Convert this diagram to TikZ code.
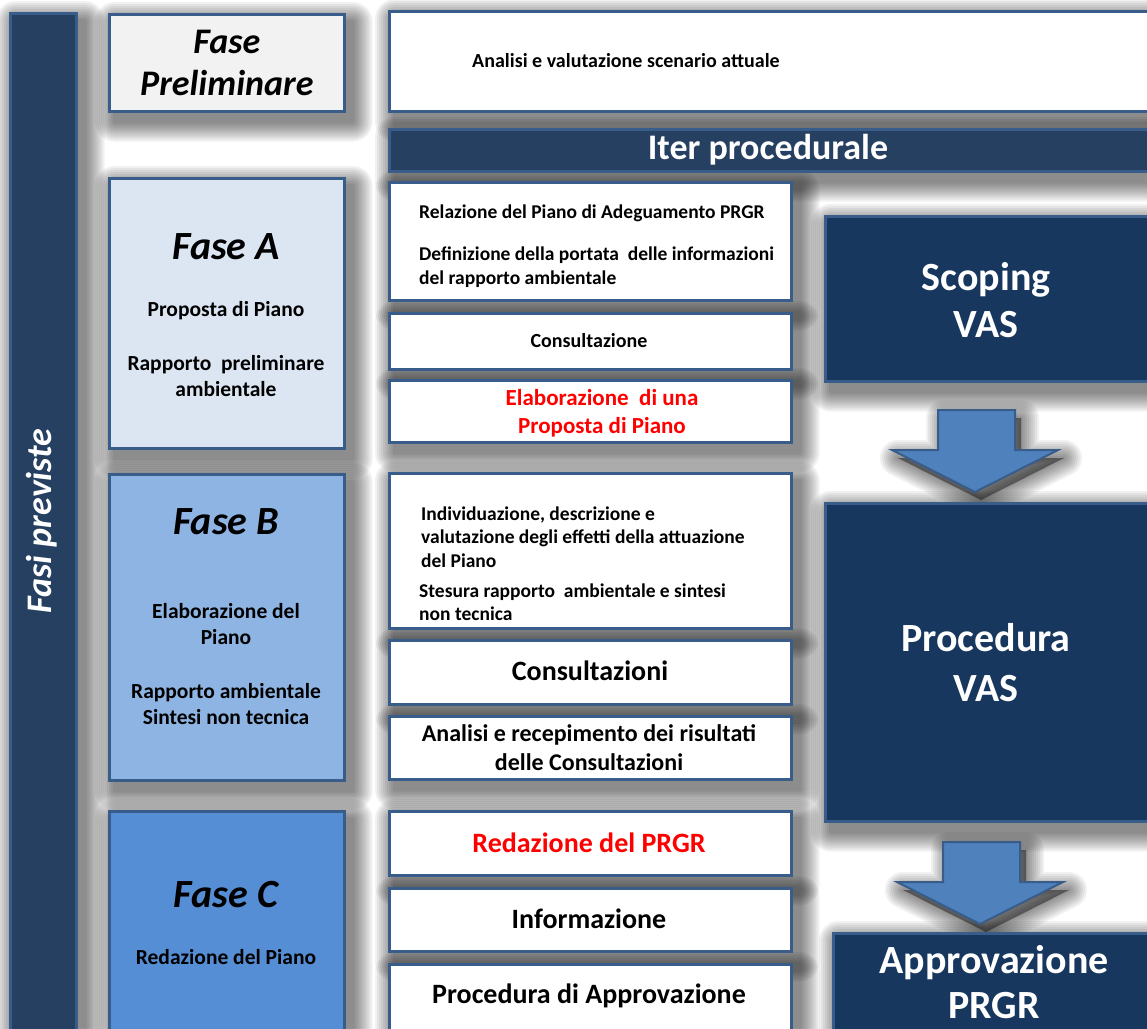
\documentclass[tikz,border=0pt]{standalone}
\usepackage{fontspec}
\setmainfont{Carlito}
\pgfdeclarelayer{shadowlayer}
\pgfsetlayers{shadowlayer,main}
\definecolor{navy}{HTML}{254061}
\definecolor{deepnavy}{HTML}{17375E}
\definecolor{bordc}{HTML}{385D8A}
\definecolor{prelimfill}{HTML}{F2F2F2}
\definecolor{afill}{HTML}{DCE6F2}
\definecolor{bfill}{HTML}{8EB4E3}
\definecolor{cfill}{HTML}{558ED5}
\definecolor{arrowfill}{HTML}{4F81BD}
\definecolor{redtxt}{HTML}{FF0000}
\tikzset{
  box/.style={draw=bordc, line width=2.6pt, anchor=north west, inner sep=0pt},
  whitebox/.style={box, fill=white},
  darkbox/.style={box, fill=deepnavy},
  midtxt/.style={font=\bfseries\fontsize{19.5}{24}\selectfont, align=left, anchor=west, inner sep=0pt},
  bigmid/.style={font=\bfseries\fontsize{28}{30}\selectfont, align=center, anchor=center, inner sep=0pt},
  phasetitle/.style={font=\bfseries\itshape\fontsize{40}{42}\selectfont, anchor=center, inner sep=0pt},
  phasetxt/.style={font=\bfseries\fontsize{21.5}{26}\selectfont, align=center, anchor=center, inner sep=0pt},
  righttxt/.style={text=white, align=center, inner sep=0pt},
  arrowshape/.style={fill=arrowfill, draw=bordc, line width=2pt, line join=miter},
  shadowstep/.style={fill=black, opacity=0.055},
}
\def\arrowone{(938,410) -- (1015,410) -- (1015,450) -- (1058,450) -- (975,492) -- (892,450) -- (938,450) -- cycle}
\def\arrowtwo{(943,842) -- (1020,842) -- (1020,882) -- (1063,882) -- (980,924) -- (897,882) -- (943,882) -- cycle}
\begin{document}
\begin{tikzpicture}[x=1pt,y=-1pt]
\useasboundingbox (0,0) rectangle (1147,1028);
\begin{scope}
\clip (0,0) rectangle (1147,1028);
% left bar
\node[box, fill=navy, minimum width=66, minimum height=1030] (bar) at (9,12) {};
\node[rotate=90, text=white, inner sep=0pt, font=\bfseries\itshape\fontsize{36}{38}\selectfont] (barlbl) at (42,521) {Fasi previste};
% top row
\node[box, fill=prelimfill, minimum width=235, minimum height=97, font=\bfseries\itshape\fontsize{36}{42}\selectfont, align=center] (prelim) at (108,13) {Fase\\Preliminare};
\node[whitebox, minimum width=770, minimum height=100] (analisi) at (388,10) {};
\node[font=\bfseries\fontsize{20}{22}\selectfont, anchor=west, inner sep=0pt] (analisitxt) at (472,61) {Analisi e valutazione scenario attuale};
\node[box, fill=navy, minimum width=770, minimum height=42] (iter) at (388,128) {};
\node[text=white, font=\bfseries\fontsize{36}{38}\selectfont, inner sep=0pt] (itertxt) at (768,150) {Iter procedurale};
% phase boxes
\node[box, fill=afill, minimum width=235, minimum height=270] (faseA) at (108,177) {};
\node[phasetitle] (faseAt) at (226,247) {Fase A};
\node[phasetxt] (faseA1) at (226,311) {Proposta di Piano};
\node[phasetxt] (faseA2) at (226,376) {Rapporto\ \ preliminare\\ambientale};
\node[box, fill=bfill, minimum width=235, minimum height=306] (faseB) at (108,473) {};
\node[phasetitle] (faseBt) at (226,522) {Fase B};
\node[phasetxt] (faseB1) at (226,624) {Elaborazione del\\Piano};
\node[phasetxt] (faseB2) at (226,704) {Rapporto ambientale\\Sintesi non tecnica};
\node[box, fill=cfill, minimum width=235, minimum height=230] (faseC) at (108,810) {};
\node[phasetitle] (faseCt) at (226,895) {Fase C};
\node[phasetxt] (faseC1) at (226,957) {Redazione del Piano};
% middle column
\node[whitebox, minimum width=402, minimum height=118] (m1) at (388,181) {};
\node[midtxt] (m1a) at (419,213) {Relazione del Piano di Adeguamento PRGR};
\node[midtxt] (m1b) at (419,267) {Definizione della portata\ \ delle informazioni\\del rapporto ambientale};
\node[whitebox, minimum width=402, minimum height=56] (m2) at (388,312) {};
\node[font=\bfseries\fontsize{20}{22}\selectfont, inner sep=0pt] (m2t) at (589,341) {Consultazione};
\node[whitebox, minimum width=402, minimum height=62] (m3) at (388,379) {};
\node[font=\bfseries\fontsize{23}{28}\selectfont, text=redtxt, align=center, inner sep=0pt] (m3t) at (602,413) {Elaborazione\ \ di una\\Proposta di Piano};
\node[whitebox, minimum width=402, minimum height=155] (m4) at (388,472) {};
\node[midtxt, font=\bfseries\fontsize{19.5}{23.5}\selectfont] (m4a) at (421,537) {Individuazione, descrizione e\\valutazione degli effetti della attuazione\\del Piano};
\node[midtxt, font=\bfseries\fontsize{19.5}{23.5}\selectfont] (m4b) at (419,602) {Stesura rapporto\ \ ambientale e sintesi\\non tecnica};
\node[whitebox, minimum width=402, minimum height=64] (m5) at (388,639) {};
\node[bigmid] (m5t) at (590,671) {Consultazioni};
\node[whitebox, minimum width=402, minimum height=63] (m6) at (388,715) {};
\node[font=\bfseries\fontsize{24}{29}\selectfont, align=center, inner sep=0pt] (m6t) at (589,748) {Analisi\ e recepimento dei risultati\\delle Consultazioni};
\node[whitebox, minimum width=402, minimum height=64] (m7) at (388,810) {};
\node[bigmid, text=redtxt] (m7t) at (589,843) {Redazione del PRGR};
\node[whitebox, minimum width=402, minimum height=63] (m8) at (388,887) {};
\node[bigmid] (m8t) at (589,919) {Informazione};
\node[whitebox, minimum width=402, minimum height=70] (m9) at (388,963) {};
\node[bigmid] (m9t) at (589,996) {Procedura di Approvazione};
% right column
\node[darkbox, minimum width=340, minimum height=165] (scoping) at (824,215) {};
\node[righttxt, font=\bfseries\fontsize{40}{47}\selectfont] (scopingt) at (986,300) {Scoping\\VAS};
\node[darkbox, minimum width=340, minimum height=318] (procedura) at (824,502) {};
\node[righttxt, font=\bfseries\fontsize{40}{50}\selectfont] (proceduret) at (986,663) {Procedura\\VAS};
\node[darkbox, minimum width=330, minimum height=110] (approv) at (832,932) {};
\node[righttxt, font=\bfseries\fontsize{40}{45}\selectfont] (approvt) at (994,982) {Approvazione\\PRGR};
% block arrows
\path[arrowshape] \arrowone;
\path[arrowshape] \arrowtwo;
% soft shadows
\begin{pgfonlayer}{shadowlayer}
\fill[white] (0,0) rectangle (1147,1028);
\foreach \n in {bar,prelim,analisi,iter,faseA,faseB,faseC,m1,m2,m3,m4,m5,m6,m7,m8,m9,scoping,procedura,approv}{
  \foreach \r in {2,4,...,20}{
    \fill[shadowstep, rounded corners=\r pt] ([shift={(7-\r,9-\r)}]\n.north west) rectangle ([shift={(7+\r,9+\r)}]\n.south east);
  }
}
\foreach \w in {4,8,...,36}{
  \begin{scope}[shift={(6,8)}]
    \path[shadowstep, draw=black, line width=\w pt, line join=round] \arrowone;
    \path[shadowstep, draw=black, line width=\w pt, line join=round] \arrowtwo;
  \end{scope}
}
\end{pgfonlayer}
\end{scope}
\end{tikzpicture}
\end{document}
